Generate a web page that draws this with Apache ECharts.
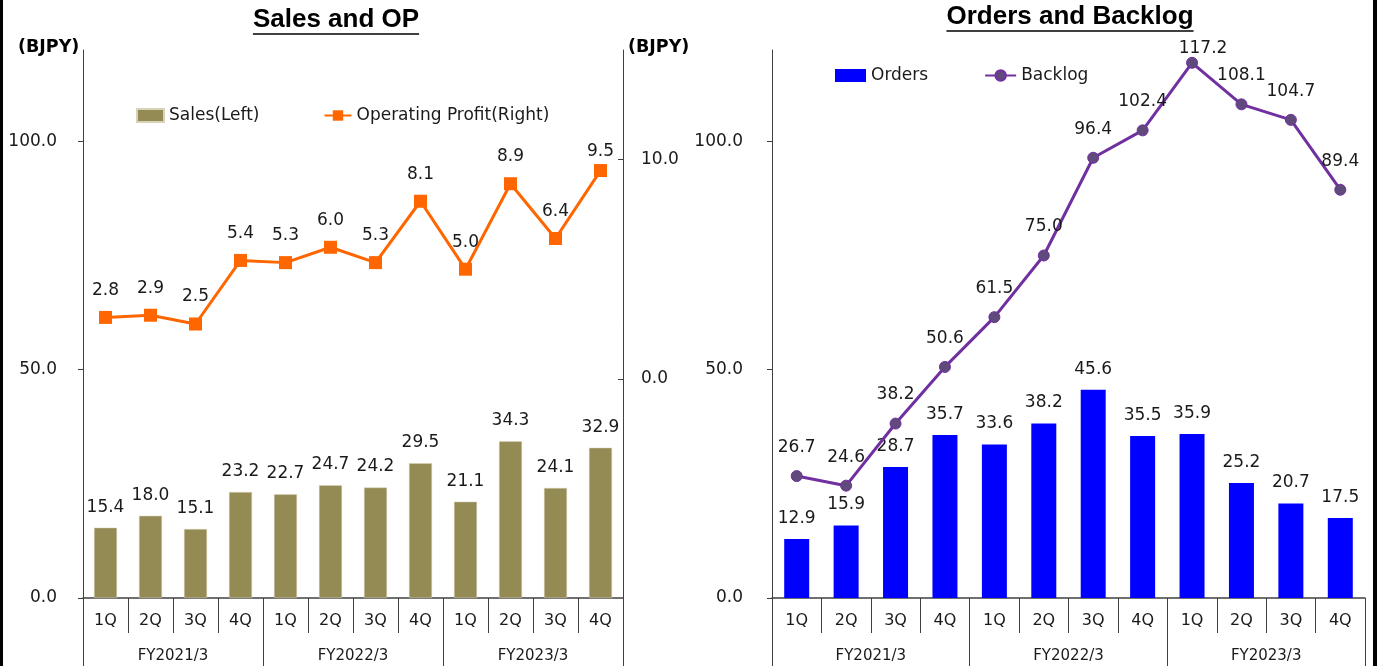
<!DOCTYPE html>
<html><head><meta charset="utf-8">
<script src="https://cdn.jsdelivr.net/npm/echarts@6/dist/echarts.min.js"></script>
<style>html,body{margin:0;padding:0;background:#fff}#c{width:1377px;height:666px}</style>
</head><body><div id="c"></div><script>
// ---- data ----
const quarters = ['1Q','2Q','3Q','4Q','1Q','2Q','3Q','4Q','1Q','2Q','3Q','4Q'];
const fiscalYears = ['FY2021/3','FY2022/3','FY2023/3'];
const sales = [15.4,18.0,15.1,23.2,22.7,24.7,24.2,29.5,21.1,34.3,24.1,32.9];
const operatingProfit = [2.8,2.9,2.5,5.4,5.3,6.0,5.3,8.1,5.0,8.9,6.4,9.5];
const orders = [12.9,15.9,28.7,35.7,33.6,38.2,45.6,35.5,35.9,25.2,20.7,17.5];
const backlog = [26.7,24.6,38.2,50.6,61.5,75.0,96.4,102.4,117.2,108.1,104.7,89.4];
const leftTickLabels = [0,50,100];
const opTickLabels = [0,10];
const titles = ['Sales and OP','Orders and Backlog'];
const unitLabel = '(BJPY)';

// ---- styles ----
const FONT = 'DejaVu Sans';
const TXT = '#1a1a1a';
const AX = '#404040';
const fmt = v => v.toFixed(1);

function measure(text, font){
  const c = document.createElement('canvas').getContext('2d');
  c.font = font; return c.measureText(text).width;
}
const titleFont = 'bold 26px "Liberation Sans"';

function quarterAxis(grid){
  return {type:'category', gridIndex:grid, data:quarters, position:'bottom',
    axisLine:{show:true, onZero:false, lineStyle:{color:AX, width:1.5}},
    axisTick:{show:true, interval:0, length:35, lineStyle:{color:AX}},
    axisLabel:{interval:0, margin:15, fontFamily:FONT, fontSize:16, color:TXT},
    splitLine:{show:false}};
}
function fyAxis(grid){
  return {type:'category', gridIndex:grid, data:fiscalYears, position:'bottom',
    axisLine:{show:false, onZero:false},
    axisTick:{show:true, interval:0, length:75, lineStyle:{color:AX}},
    axisLabel:{interval:0, margin:51, fontFamily:FONT, fontSize:15, color:TXT},
    splitLine:{show:false}};
}
function leftValueAxis(grid, margin){
  return {type:'value', gridIndex:grid, position:'left', min:0, max:120, interval:50,
    axisLine:{show:true, lineStyle:{color:AX}},
    axisTick:{show:true, length:5, lineStyle:{color:AX}},
    axisLabel:{margin:margin, showMaxLabel:false, fontFamily:FONT, fontSize:17, color:TXT,
      formatter:v => leftTickLabels.includes(v) ? fmt(v) : ''},
    splitLine:{show:false}};
}
const dataLabel = {show:true, position:'top', fontFamily:FONT, fontSize:17, color:TXT, formatter:p => fmt(p.value)};

const titleGraphics = [];
[[336,20],[1070,17]].forEach((pos,i)=>{
  const w = measure(titles[i], titleFont);
  titleGraphics.push({type:'text', x:pos[0], y:pos[1], style:{text:titles[i], font:titleFont, fill:'#000', textAlign:'center', textVerticalAlign:'middle'}});
  titleGraphics.push({type:'line', shape:{x1:pos[0]-w/2, y1:pos[1]+14, x2:pos[0]+w/2, y2:pos[1]+14}, style:{stroke:'#000', lineWidth:1.5}});
});

// manual label nudges (Excel-placed labels)
const opLast = operatingProfit.length - 1;
const backlogPeak = backlog.indexOf(Math.max.apply(null, backlog));
const opData = operatingProfit.map((v,i)=> i===opLast ? {value:v, label:{offset:[0,8]}} : v);
const backlogData = backlog.map((v,i)=> i===backlogPeak ? {value:v, label:{offset:[11,14]}} : v);

const option = {
  animation:false,
  backgroundColor:'#fff',
  grid:[
    {left:83, right:754, top:50, bottom:68, containLabel:false},
    {left:772, right:12, top:50, bottom:68, containLabel:false}
  ],
  legend:[
    {left:131, top:102, itemWidth:27, itemHeight:13, itemGap:64,
     textStyle:{fontFamily:FONT, fontSize:17, color:TXT},
     data:[{name:'Sales(Left)', icon:'rect'}, {name:'Operating Profit(Right)'}]},
    {left:830, top:62, itemWidth:31, itemHeight:13, itemGap:56,
     textStyle:{fontFamily:FONT, fontSize:17, color:TXT},
     data:[{name:'Orders', icon:'rect'}, {name:'Backlog'}]}
  ],
  xAxis:[quarterAxis(0), fyAxis(0), quarterAxis(1), fyAxis(1)],
  yAxis:[
    leftValueAxis(0, 26),
    {type:'value', gridIndex:0, position:'right', min:-10, max:15, interval:10,
     axisLine:{show:true, lineStyle:{color:AX}},
     axisTick:{show:true, inside:true, length:5, lineStyle:{color:AX}},
     axisLabel:{margin:18, showMaxLabel:false, showMinLabel:false, fontFamily:FONT, fontSize:17, color:TXT,
       formatter:v => opTickLabels.includes(v) ? fmt(v) : ''},
     splitLine:{show:false}},
    leftValueAxis(1, 29)
  ],
  series:[
    {name:'Sales(Left)', type:'bar', xAxisIndex:0, yAxisIndex:0, data:sales, barWidth:23,
     itemStyle:{color:'#948A54', borderColor:'#d8d2b8', borderWidth:0.5}, label:Object.assign({}, dataLabel, {distance:12})},
    {name:'Operating Profit(Right)', type:'line', xAxisIndex:0, yAxisIndex:1, data:opData,
     symbol:'rect', symbolSize:13, lineStyle:{color:'#FF6600', width:3}, itemStyle:{color:'#FF6600'},
     label:Object.assign({}, dataLabel, {distance:12}), z:5},
    {name:'Orders', type:'bar', xAxisIndex:2, yAxisIndex:2, data:orders, barWidth:25,
     itemStyle:{color:'#0000FF'}, label:Object.assign({}, dataLabel, {distance:12})},
    {name:'Backlog', type:'line', xAxisIndex:2, yAxisIndex:2, data:backlogData,
     symbol:'circle', symbolSize:11, lineStyle:{color:'#7030A0', width:3},
     itemStyle:{color:'#604A7B', borderColor:'#7030A0', borderWidth:1},
     label:Object.assign({}, dataLabel, {distance:14}), z:5}
  ],
  graphic:[
    {type:'rect', shape:{x:0, y:0, width:3, height:666}, style:{fill:'#000'}},
    {type:'rect', shape:{x:1373, y:0, width:4, height:666}, style:{fill:'#000'}},
    {type:'text', x:18, y:47, style:{text:unitLabel, font:'bold 17.5px "DejaVu Sans"', fill:'#000', textVerticalAlign:'middle'}},
    {type:'text', x:628, y:47, style:{text:unitLabel, font:'bold 17.5px "DejaVu Sans"', fill:'#000', textVerticalAlign:'middle'}}
  ].concat(titleGraphics)
};
const chart = echarts.init(document.getElementById('c'), null, {renderer:'canvas'});
chart.setOption(option);
</script></body></html>
